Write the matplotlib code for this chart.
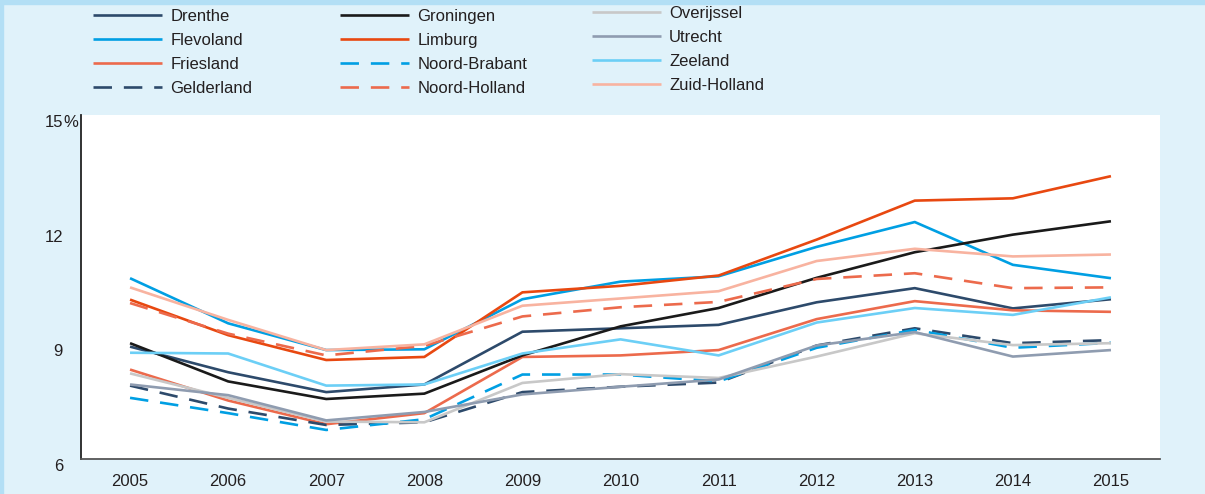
import matplotlib
matplotlib.use("Agg")
from matplotlib import pyplot as plt
import numpy as np

plt.rcParams['font.family'] = ['Liberation Sans', 'DejaVu Sans']

years = [2005, 2006, 2007, 2008, 2009, 2010, 2011, 2012, 2013, 2014, 2015]

drenthe       = [8.94, 8.27, 7.75, 7.95, 9.33, 9.42, 9.51, 10.10, 10.47, 9.94, 10.18]
flevoland     = [10.73, 9.55, 8.85, 8.87, 10.18, 10.64, 10.78, 11.55, 12.20, 11.08, 10.73]
friesland     = [8.34, 7.53, 6.91, 7.20, 8.67, 8.71, 8.85, 9.66, 10.13, 9.89, 9.85]
gelderland    = [7.92, 7.32, 6.89, 6.96, 7.75, 7.89, 8.00, 8.97, 9.42, 9.03, 9.11]
groningen     = [9.03, 8.03, 7.57, 7.71, 8.71, 9.47, 9.95, 10.74, 11.41, 11.87, 12.22]
limburg       = [10.17, 9.24, 8.59, 8.67, 10.36, 10.53, 10.80, 11.74, 12.76, 12.82, 13.40]
noord_brabant = [7.60, 7.20, 6.76, 7.04, 8.21, 8.21, 8.03, 8.91, 9.38, 8.91, 9.04]
noord_holland = [10.08, 9.28, 8.71, 8.96, 9.73, 9.97, 10.11, 10.71, 10.86, 10.47, 10.49]
overijssel    = [8.24, 7.60, 6.98, 6.96, 7.99, 8.22, 8.12, 8.68, 9.29, 8.98, 9.03]
utrecht       = [7.95, 7.67, 7.01, 7.23, 7.69, 7.89, 8.08, 8.97, 9.32, 8.68, 8.85]
zeeland       = [8.78, 8.76, 7.92, 7.95, 8.76, 9.13, 8.71, 9.57, 9.95, 9.77, 10.23]
zuid_holland  = [10.49, 9.64, 8.85, 9.00, 10.01, 10.20, 10.39, 11.18, 11.50, 11.30, 11.35]

names = ['Drenthe', 'Flevoland', 'Friesland', 'Gelderland',
         'Groningen', 'Limburg', 'Noord-Brabant', 'Noord-Holland',
         'Overijssel', 'Utrecht', 'Zeeland', 'Zuid-Holland']
series = [drenthe, flevoland, friesland, gelderland,
          groningen, limburg, noord_brabant, noord_holland,
          overijssel, utrecht, zeeland, zuid_holland]
colors = ['#2d4a6b', '#009fe3', '#ec6a4c', '#2d4a6b',
          '#1a1a1a', '#e84810', '#009fe3', '#ec6a4c',
          '#c8c8c8', '#8f9cb0', '#6ccff6', '#f8b3a0']
dashed = [False, False, False, True,
          False, False, True, True,
          False, False, False, False]

bg = '#e0f2fa'
W, H = 1205, 494
fs = 12
txt = '#231f20'
fig = plt.figure(figsize=(W/100, H/100), dpi=100, facecolor=bg)

# thin darker strips at top and left edge
fig.patches.append(plt.Rectangle((0, 1 - 4/H), 1, 4/H, transform=fig.transFigure,
                                 color='#b3dff5', zorder=0))
fig.patches.append(plt.Rectangle((0, 0), 3/W, 1, transform=fig.transFigure,
                                 color='#b3dff5', zorder=0))

ax = fig.add_axes([81/W, (H-459)/H, (1160-81)/W, (459-115)/H])
ax.set_facecolor('white')

lines = []
for name, vals, c, d in zip(names, series, colors, dashed):
    ln, = ax.plot(years, vals, color=c, lw=1.9, label=name,
                  solid_capstyle='butt', dash_capstyle='butt')
    if d:
        ln.set_dashes((7, 4.5))
    lines.append(ln)

ax.set_xlim(2004.5, 2015.5)
ax.set_ylim(6, 15)
ax.set_xticks(years)
ax.set_xticklabels([str(y) for y in years])
ax.set_yticks([6, 9, 12, 15])
ax.set_yticklabels(['6', '9', '12', '15'])
ax.tick_params(axis='both', length=0, labelsize=fs, colors=txt)
ax.tick_params(axis='x', pad=11)
ax.tick_params(axis='y', pad=13)
for lab in ax.get_yticklabels():
    lab.set_va('top')
ax.annotate('%', xy=(0, 15), xycoords=('axes fraction', 'data'),
            xytext=(-3, 0), textcoords='offset pixels', fontsize=fs,
            color=txt, ha='right', va='top')

for s in ['top', 'right']:
    ax.spines[s].set_visible(False)
ax.spines['left'].set_color('#222222')
ax.spines['bottom'].set_color('#555555')
ax.spines['left'].set_linewidth(1.3)
ax.spines['bottom'].set_linewidth(1.3)

# legend: three columns of four
col_x = [93, 340, 592]
col_y = [9, 9, 6]
for i in range(3):
    leg = fig.legend(handles=lines[i*4:(i+1)*4], loc='upper left',
                     bbox_to_anchor=(col_x[i]/W, 1 - col_y[i]/H),
                     frameon=False, fontsize=fs, handlelength=4.13,
                     handletextpad=0.5, labelspacing=0.54, borderpad=0,
                     borderaxespad=0)
    for t in leg.get_texts():
        t.set_color(txt)

fig.savefig('out.png', dpi=100, facecolor=bg)
